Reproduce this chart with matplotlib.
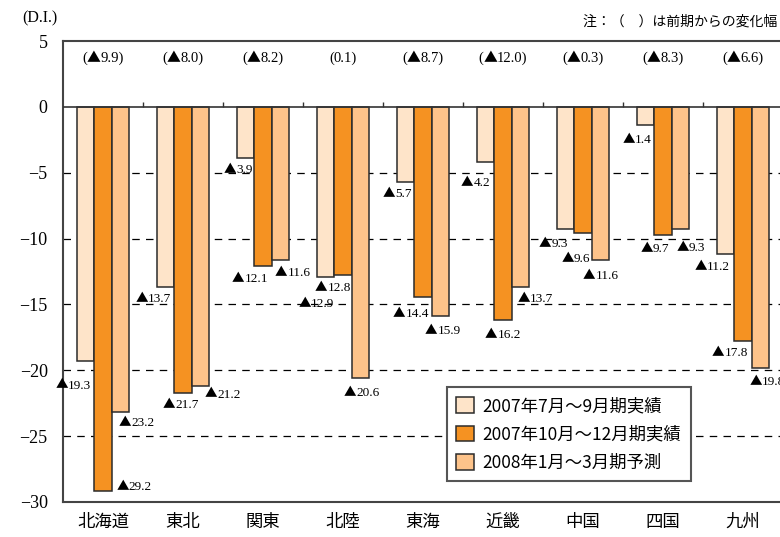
import matplotlib
matplotlib.use("Agg")
import matplotlib.pyplot as plt
from matplotlib.patches import Patch
from matplotlib.offsetbox import TextArea, HPacker, AnnotationBbox
import numpy as np

regions = ["北海道", "東北", "関東", "北陸", "東海", "近畿", "中国", "四国", "九州"]
series_names = ["2007年7月～9月期実績", "2007年10月～12月期実績", "2008年1月～3月期予測"]
q3_2007 = [-19.3, -13.7, -3.9, -12.9, -5.7, -4.2, -9.3, -1.4, -11.2]
q4_2007 = [-29.2, -21.7, -12.1, -12.8, -14.4, -16.2, -9.6, -9.7, -17.8]
q1_2008 = [-23.2, -21.2, -11.6, -20.6, -15.9, -13.7, -11.6, -9.3, -19.8]
change = [-9.9, -8.0, -8.2, 0.1, -8.7, -12.0, -0.3, -8.3, -6.6]
yticks = [5, 0, -5, -10, -15, -20, -25, -30]

# label placement (pixel offsets: label centre vs bar centre / bar bottom)
label_dx = [[-12, 31, 16], [-12, -2, 22], [-7, -13, 12], [-9, -10, 1], [-8, -12, 2],
            [-10, 0, 15], [-12, -7, 0], [-8, -8, 10], [-13, -13, 7]]
label_dy = [[24, -5, 10], [11, 12, 8], [11, 12, 13], [27, 12, 14], [12, 17, 14],
            [20, 14, 11], [14, 25, 16], [14, 14, 18], [12, 11, 14]]

colors = ["#FEE4C9", "#F59222", "#FDC38A"]
edge = "#2b2b2b"
jp = ["Noto Sans CJK JP", "DejaVu Sans"]
serif = ["Liberation Serif", "DejaVu Sans"]
PX = 0.72  # points per pixel at dpi 100


def label_box(v, size, paren=False):
    parts = []
    if paren:
        parts.append(TextArea("(", textprops=dict(family=serif, size=size)))
    if v < 0:
        parts.append(TextArea("▲", textprops=dict(family=jp, size=size * 0.95)))
    num = f"{abs(v):.1f}" + (")" if paren else "")
    parts.append(TextArea(num, textprops=dict(family=serif, size=size)))
    return HPacker(children=parts, align="baseline", pad=0, sep=0)


fig = plt.figure(figsize=(7.8, 5.37), dpi=100)
ax = fig.add_axes([63 / 780, 35 / 537, 720 / 780, 461 / 537])

x = np.arange(len(regions))
w = 0.22
data = [q3_2007, q4_2007, q1_2008]
for k, vals in enumerate(data):
    ax.bar(x + (k - 1) * w, vals, width=w, color=colors[k], edgecolor=edge,
           linewidth=1.1, zorder=3, label=series_names[k])

for i in range(len(regions)):
    for k in range(3):
        v = data[k][i]
        ab = AnnotationBbox(label_box(v, 9.5), (x[i] + (k - 1) * w, v),
                            xybox=(label_dx[i][k] * PX, -label_dy[i][k] * PX),
                            boxcoords="offset points", frameon=False, pad=0,
                            box_alignment=(0.5, 0.5), zorder=5)
        ax.add_artist(ab)

for i, c in enumerate(change):
    ab = AnnotationBbox(label_box(c, 10.5, paren=True), (x[i], 0.963),
                        xycoords=("data", "axes fraction"), frameon=False, pad=0,
                        box_alignment=(0.5, 0.5), zorder=5)
    ax.add_artist(ab)

ax.set_xlim(-0.5, len(regions) - 0.5)
ax.set_ylim(-30, 5)

for yv in [-5, -10, -15, -20, -25]:
    ax.axhline(yv, color="black", lw=0.9, ls=(0, (6, 5)), zorder=1)
ax.axhline(0, color="#333333", lw=1.2, zorder=4)
ax.vlines(x[:-1] + 0.5, 0, 0.4, color="#333333", lw=1.0, zorder=4)

ax.set_yticks(yticks)
ax.set_yticklabels([str(t).replace("-", "−") for t in yticks], family=serif, fontsize=13)
ax.tick_params(axis="y", length=0, pad=11)
ax.set_xticks(x)
ax.set_xticklabels(regions, family=jp, fontsize=12.5)
ax.tick_params(axis="x", length=0, pad=8)

for s in ["top", "left", "bottom"]:
    ax.spines[s].set_color("#444444")
    ax.spines[s].set_linewidth(1.5)
ax.spines["right"].set_visible(False)

fig.text(22 / 780, 1 - 18 / 537, "(D.I.)", family=serif, fontsize=11.5, va="center", ha="left")
fig.text(777 / 780, 1 - 22 / 537, "注：（　）は前期からの変化幅", family=jp, fontsize=10,
         va="center", ha="right")

handles = [Patch(facecolor=colors[k], edgecolor=edge, linewidth=1.1) for k in range(3)]
leg = ax.legend(handles, series_names, loc="lower left", bbox_to_anchor=(0.521, 0.026),
                prop={"family": jp, "size": 12.5}, fancybox=False, framealpha=1,
                edgecolor="#555555", handlelength=1.0, handleheight=1.0,
                handletextpad=0.5, labelspacing=0.6, borderpad=0.55)
leg.get_frame().set_linewidth(1.5)
leg.set_zorder(6)

fig.savefig("out.png", dpi=100)
